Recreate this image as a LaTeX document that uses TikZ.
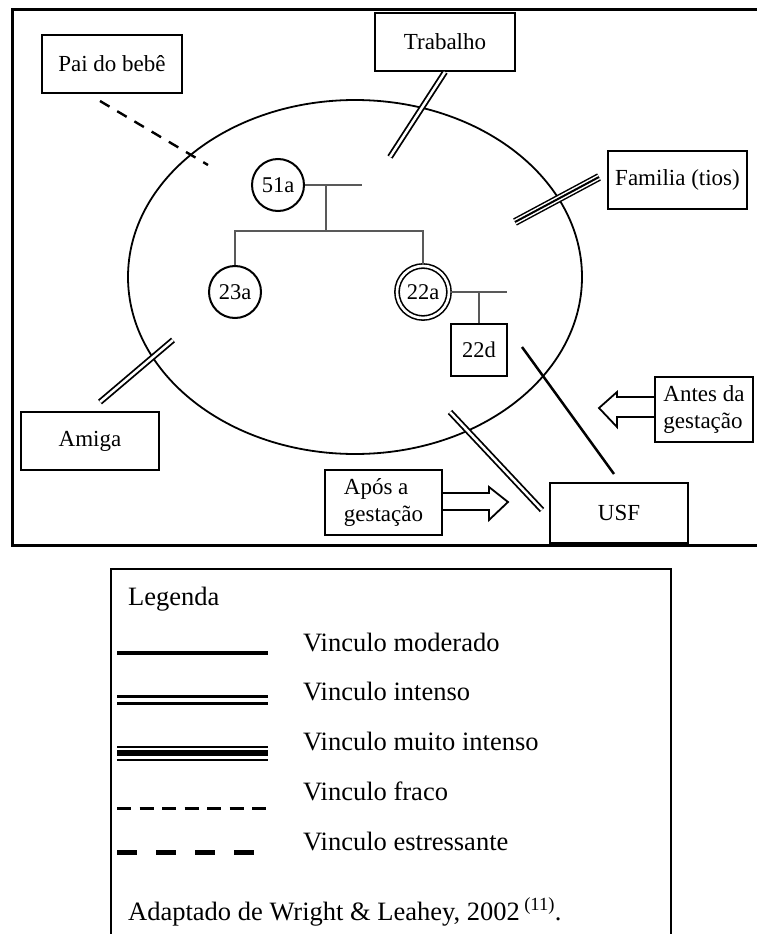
\documentclass[tikz,border=0pt]{standalone}
\usepackage{fontspec}
\setmainfont{Liberation Serif}
\usepackage{tikz}
\usetikzlibrary{positioning}
\tikzset{
  % Box styles
  caixa/.style={rectangle, draw, line width=2pt, minimum width=140pt, minimum height=58pt, inner sep=0pt, font=\fontsize{23}{27}\selectfont, align=left},
  pessoa/.style={circle, draw, line width=2pt, minimum size=52pt, inner sep=0pt, font=\fontsize{22.5}{27}\selectfont},
  homem/.style={rectangle, draw, line width=2pt, minimum width=56pt, minimum height=52pt, inner sep=0pt, font=\fontsize{22.5}{27}\selectfont},
  legtexto/.style={anchor=base west, inner sep=0pt, font=\fontsize{26.5}{30}\selectfont},
  % Line styles
  geno/.style={line width=1.2pt, black!65},
  moderado/.style={line width=2.5pt},
  intenso/.style={double, line width=1.8pt, double distance=2.5pt},
  muitointenso/.style={line width=8pt, postaction={draw=white, line width=5pt}, postaction={draw=black, line width=2pt}},
  fraco/.style={line width=2.4pt, dash pattern=on 11pt off 9pt},
  setabloco/.style={draw, line width=1.8pt, line join=miter}
}

\begin{document}
\begin{tikzpicture}[x=1pt, y=-1pt]
  \useasboundingbox (0,0) rectangle (757,934);

  % Ecomap frame and circle
  \draw[line width=3pt] (757,10) -- (12,10) -- (12,545) -- (757,545);
  \draw[line width=1.8pt] (355,277) ellipse [x radius=227, y radius=177];

  % Genogram
  \node[pessoa] (p51) at (278,185) {51a};
  \node[pessoa] (p23) at (235,292) {23a};
  \node[pessoa, double, line width=1.6pt, double distance=2.6pt] (p22) at (423,292) {22a};
  \node[homem] (p22d) at (479,350) {22d};
  \coordinate (c51) at (362,185);
  \coordinate (m1) at (326,185);
  \coordinate (m2) at (326,231);
  \coordinate (c22) at (507,292);
  \draw[geno] (p51) -- (c51);
  \draw[geno] (m1) -- (m2);
  \draw[geno] (p23.north) |- (m2) -| (p22.north);
  \draw[geno] (p22) -- (c22);
  \draw[geno] (p22d.north) -- (p22d.north |- c22);

  % External systems
  \node[caixa] (pai) at (112,64) {Pai do bebê};
  \node[caixa] (trabalho) at (445,42) {Trabalho};
  \node[caixa, minimum width=139pt] (familia) at (677.5,180) {Familia (tios)};
  \node[caixa, minimum width=138pt] (amiga) at (90,441) {Amiga};
  \node[caixa, minimum width=138pt, minimum height=60pt] (usf) at (619,513) {USF};
  \node[caixa, minimum width=98pt, minimum height=65pt] (antes) at (704,409.5) {Antes da\\gestação};
  \node[caixa, minimum width=117pt, minimum height=65pt] (apos) at (383.5,502.5) {Após a\\gestação};

  % Links
  \coordinate (pai-in) at (208,165);
  \coordinate (trab-in) at (390,157);
  \coordinate (fam-in) at (515,222);
  \coordinate (amiga-in) at (173,340);
  \coordinate (usf-in1) at (522,347);
  \coordinate (usf-in2) at (450,412);
  \draw[fraco] ([shift={(-12,7)}]pai.south) -- (pai-in);
  \draw[intenso] (trabalho.south) -- (trab-in);
  \draw[muitointenso] ([shift={(-8,-3)}]familia.west) -- (fam-in);
  \draw[intenso] ([shift={(10,-9)}]amiga.north) -- (amiga-in);
  \draw[moderado] ([shift={(-5,-8)}]usf.north) -- (usf-in1);
  \draw[intenso] ([shift={(-7,-3)}]usf.west) -- (usf-in2);

  % Block arrows
  \draw[setabloco] ([shift={(0,-12.5)}]antes.west) -- ++(-37,0) -- ++(0,-5) -- ++(-18,16)
    -- ++(18,19) -- ++(0,-10) -- ++(37,0);
  \draw[setabloco] ([shift={(0,-9.5)}]apos.east) -- ++(46,0) -- ++(0,-6) -- ++(19,15)
    -- ++(-19,18) -- ++(0,-10) -- ++(-46,0);

  % Legend
  \draw[line width=2.5pt] (111,940) -- (111,569) -- (671,569) -- (671,940);
  \node[legtexto] (leg) at (128,605) {Legenda};
  \node[legtexto] (l1) at (303,651) {Vinculo moderado};
  \node[legtexto] (l2) at (303,700) {Vinculo intenso};
  \node[legtexto] (l3) at (303,750) {Vinculo muito intenso};
  \node[legtexto] (l4) at (303,800) {Vinculo fraco};
  \node[legtexto] (l5) at (303,850) {Vinculo estressante};
  \node[legtexto] (fonte) at (128,920) {Adaptado de Wright \& Leahey, 2002\,\textsuperscript{(11)}.};
  \draw[line width=4pt] (117,653) -- (268,653);
  \draw[double, line width=2.5pt, double distance=4.5pt] (117,700) -- (268,700);
  \draw[line width=15pt] (117,753) -- (268,753);
  \draw[white, line width=11pt] (116,753) -- (269,753);
  \draw[line width=6pt] (117,753) -- (268,753);
  \draw[line width=3pt, dash pattern=on 14pt off 8.5pt] (117,808) -- (270,808);
  \draw[line width=5pt, dash pattern=on 20pt off 19pt] (117,852) -- (256,852);
\end{tikzpicture}
\end{document}
